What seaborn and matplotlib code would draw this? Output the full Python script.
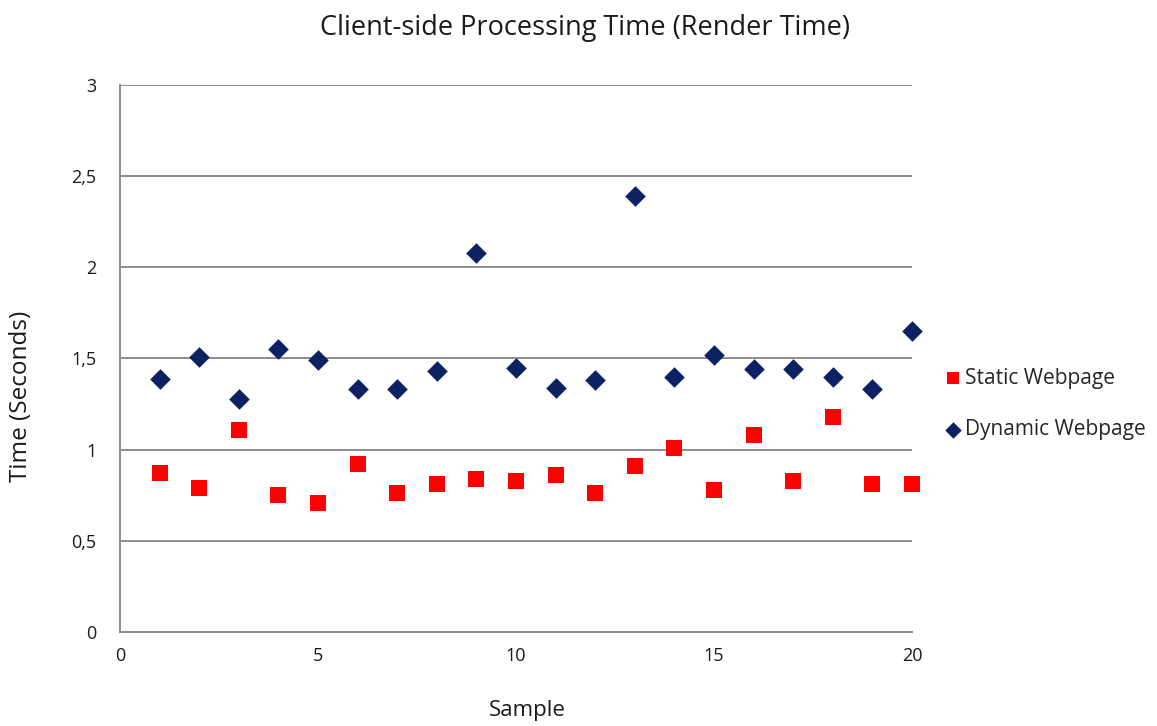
import matplotlib
matplotlib.use("Agg")
import matplotlib.pyplot as plt
import seaborn as sns
import pandas as pd
from matplotlib.ticker import FuncFormatter, MultipleLocator

samples = list(range(1, 21))
static_times = [0.87, 0.79, 1.11, 0.75, 0.71, 0.92, 0.76, 0.81, 0.84, 0.83,
                0.86, 0.76, 0.91, 1.01, 0.78, 1.08, 0.83, 1.18, 0.81, 0.81]
dynamic_times = [1.39, 1.51, 1.28, 1.55, 1.49, 1.33, 1.33, 1.43, 2.08, 1.45,
                 1.34, 1.38, 2.39, 1.40, 1.52, 1.44, 1.44, 1.40, 1.33, 1.65]
series_names = ["Static Webpage", "Dynamic Webpage"]

df = pd.concat([
    pd.DataFrame({"Sample": samples, "Time": static_times, "Page": series_names[0]}),
    pd.DataFrame({"Sample": samples, "Time": dynamic_times, "Page": series_names[1]}),
])

sns.set_theme(style="white")
plt.rcParams["font.family"] = ["Open Sans", "DejaVu Sans"]

fig = plt.figure(figsize=(11.57, 7.26), dpi=100)
ax = fig.add_axes([0.1037, 0.1295, 0.6845, 0.7534])

palette = {series_names[0]: "#ff0000", series_names[1]: "#0b2161"}
markers = {series_names[0]: "s", series_names[1]: "D"}
sizes = {series_names[0]: 135, series_names[1]: 110}

for name in series_names:
    sub = df[df["Page"] == name]
    sns.scatterplot(data=sub, x="Sample", y="Time", ax=ax,
                    color=palette[name], marker=markers[name],
                    s=sizes[name], linewidth=0, label=name,
                    zorder=3, clip_on=False)

ax.set_xlim(0, 20)
ax.set_ylim(0, 3)
ax.xaxis.set_major_locator(MultipleLocator(5))
ax.yaxis.set_major_locator(MultipleLocator(0.5))
ax.yaxis.set_major_formatter(FuncFormatter(
    lambda v, _: ("%g" % v).replace(".", ",")))

ax.grid(axis="y", color="#8c8c8c", linewidth=1.4)
ax.grid(axis="x", visible=False)
for side in ("top", "right"):
    ax.spines[side].set_visible(False)
for side in ("left", "bottom"):
    ax.spines[side].set_color("#8c8c8c")
    ax.spines[side].set_linewidth(1.4)

ax.tick_params(axis="both", which="major", direction="out", length=6,
               width=1.2, color="#8c8c8c", labelsize=13, labelcolor="#1a1a1a")
ax.tick_params(axis="x", pad=5)
ax.tick_params(axis="y", pad=11)

ax.set_xlabel("Sample", fontsize=16, color="#1a1a1a")
ax.set_ylabel("Time (Seconds)", fontsize=17.5, color="#1a1a1a")
ax.xaxis.set_label_coords(0.514, -0.124)
ax.yaxis.set_label_coords(-0.110, 0.431)

fig.text(0.5056, 0.961, "Client-side Processing Time (Render Time)",
         fontsize=19.5, color="#1a1a1a", ha="center", va="center")

ax.legend(loc="center left", bbox_to_anchor=(1.015, 0.417), frameon=False,
          fontsize=15, handletextpad=0.1, labelspacing=1.45, markerscale=0.8,
          handlelength=1.0)

fig.savefig("out.png", dpi=100)
